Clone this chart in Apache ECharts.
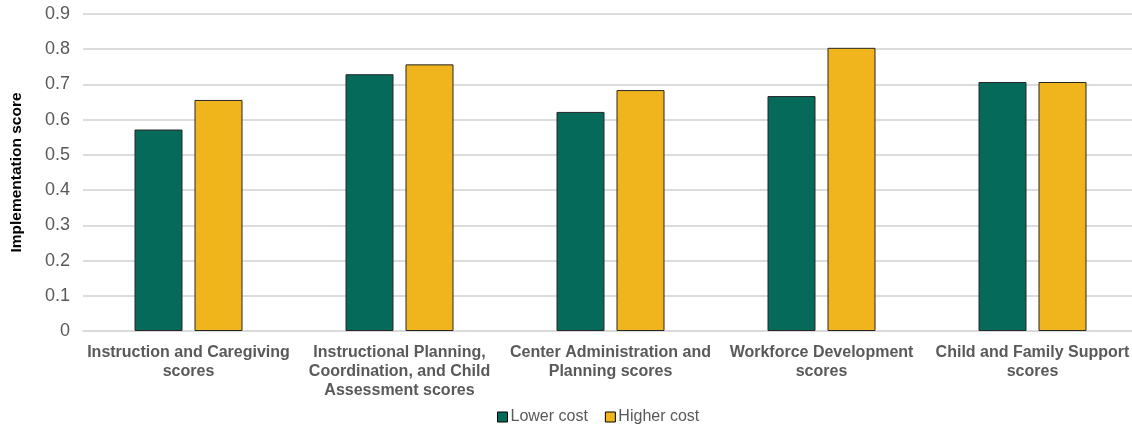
<!DOCTYPE html>
<html>
<head>
<meta charset="utf-8">
<script src="https://cdn.jsdelivr.net/npm/echarts@6/dist/echarts.min.js"></script>
<style>
  html, body { margin: 0; padding: 0; background: #fff; }
  #chart { width: 1132px; height: 429px; }
</style>
</head>
<body>
<div id="chart"></div>
<script>
  // categories and values
  var categories = [
    'Instruction and Caregiving\nscores',
    'Instructional Planning,\nCoordination, and Child\nAssessment scores',
    'Center Administration and\nPlanning scores',
    'Workforce Development\nscores',
    'Child and Family Support\nscores'
  ];
  var lowerCost = [0.572, 0.729, 0.622, 0.667, 0.707];
  var higherCost = [0.656, 0.757, 0.684, 0.804, 0.707];
  var yTicks = [0, 0.1, 0.2, 0.3, 0.4, 0.5, 0.6, 0.7, 0.8, 0.9];

  var chart = echarts.init(document.getElementById('chart'));
  var font = 'Liberation Sans, Arial, sans-serif';

  var option = {
    animation: false,
    textStyle: {fontFamily: font},
    legend: {
      top: 409,
      left: 497,
      padding: 0,
      itemWidth: 10,
      itemHeight: 10,
      itemGap: 17,
      icon: 'rect',
      itemStyle: {borderColor: '#000', borderWidth: 1},
      textStyle: {fontSize: 16, color: '#595959', fontFamily: font, padding: [0, 0, 0, -2]},
      data: ['Lower cost', 'Higher cost']
    },
    grid: {
      left: 83,
      top: 14,
      width: 1055,
      height: 317,
      outerBoundsMode: 'none'
    },
    xAxis: {
      type: 'category',
      data: categories,
      axisTick: {show: false},
      axisLine: {lineStyle: {color: '#d9d9d9', width: 1.5}},
      axisLabel: {
        interval: 0,
        margin: 12,
        fontSize: 16,
        fontWeight: 'bold',
        color: '#595959',
        lineHeight: 19,
        fontFamily: font
      }
    },
    yAxis: {
      type: 'value',
      min: yTicks[0],
      max: yTicks[yTicks.length - 1],
      interval: 0.1,
      name: 'Implementation score',
      nameLocation: 'middle',
      nameGap: 58,
      nameTextStyle: {fontSize: 15.5, fontWeight: 'bold', color: '#000', fontFamily: font},
      axisLine: {show: false},
      axisTick: {show: false},
      splitLine: {lineStyle: {color: '#d0d0d0', width: 1.5}},
      axisLabel: {
        fontSize: 18,
        color: '#595959',
        margin: 13,
        fontFamily: font,
        formatter: function (v) { return v === 0 ? '0' : v.toFixed(1); }
      }
    },
    series: [
      {
        name: 'Lower cost',
        type: 'bar',
        data: lowerCost,
        barWidth: 48,
        barGap: '25%',
        itemStyle: {color: '#066a5b', borderColor: '#262626', borderWidth: 1}
      },
      {
        name: 'Higher cost',
        type: 'bar',
        data: higherCost,
        barWidth: 48,
        barGap: '25%',
        itemStyle: {color: '#f0b51d', borderColor: '#262626', borderWidth: 1}
      }
    ]
  };
  chart.setOption(option);
</script>
</body>
</html>
